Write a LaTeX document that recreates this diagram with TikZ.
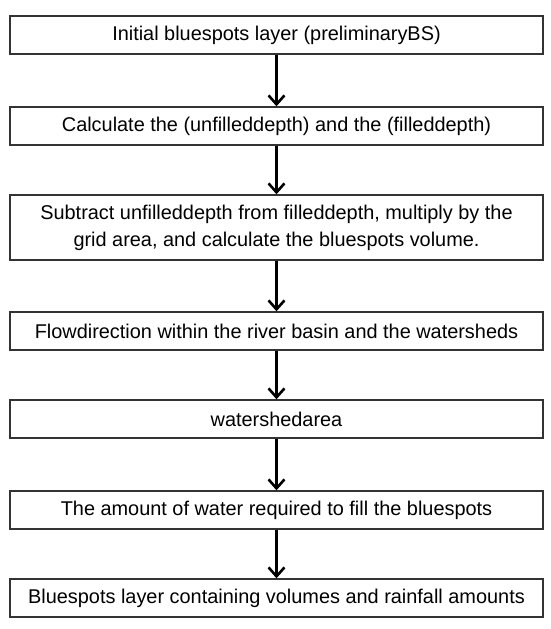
\documentclass[tikz,border=0pt]{standalone}
\usepackage{fontspec}
\setmainfont{Liberation Sans}
\usetikzlibrary{arrows.meta}
\begin{document}
\begin{tikzpicture}[x=1pt,y=-1pt]
\tikzstyle{b}=[draw=black!80,rectangle,minimum width=533pt,minimum height=38pt,line width=1.4pt,align=center,inner sep=2pt,font=\fontsize{19.9}{27}\selectfont]
\tikzstyle{a}=[line width=2.6pt,-{Straight Barb[length=9pt,width=16pt,line width=2.6pt]}]
\useasboundingbox (0,0) rectangle (550,629);
\node[b] (S1) at (276.5,35) {Initial bluespots layer (preliminaryBS)};
\node[b] (S2) at (276.5,126) {Calculate the (unfilleddepth) and the (filleddepth)};
\node[b,minimum height=65pt] (S3) at (276.5,227.5) {Subtract unfilleddepth from filleddepth, multiply by the\\grid area, and calculate the bluespots volume.};
\node[b] (S4) at (276.5,331) {Flowdirection within the river basin and the watersheds};
\node[b] (S5) at (276.5,419) {watershedarea};
\node[b] (S6) at (276.5,510) {The amount of water required to fill the bluespots};
\node[b] (S7) at (276.5,598) {Bluespots layer containing volumes and rainfall amounts};
\draw[a] (S1) -- (S2);
\draw[a] (S2) -- (S3);
\draw[a] (S3) -- (S4);
\draw[a] (S4) -- (S5);
\draw[a] (S5) -- (S6);
\draw[a] (S6) -- (S7);
\end{tikzpicture}
\end{document}
